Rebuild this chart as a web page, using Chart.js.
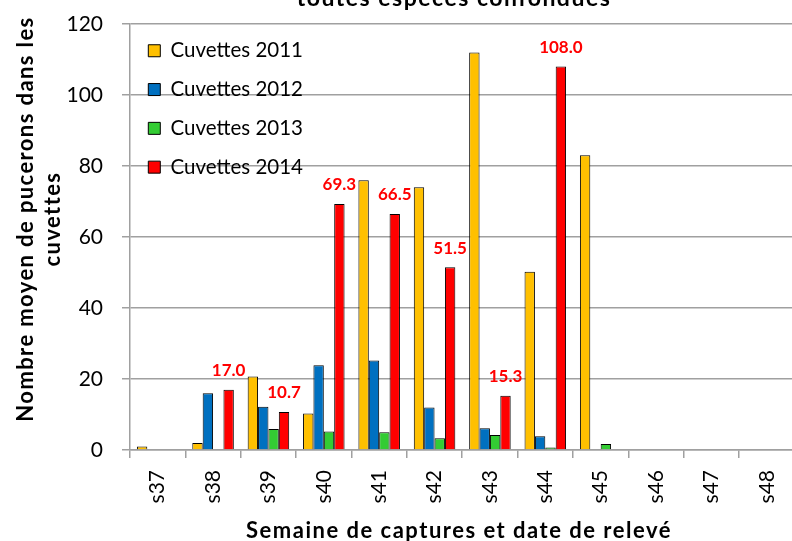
<!DOCTYPE html>
<html><head><meta charset="utf-8">
<script src="https://cdn.jsdelivr.net/npm/chart.js@4"></script>
<style>html,body{margin:0;padding:0;overflow:hidden;background:#fff}
#wrap{width:804px;height:541px;position:relative}</style></head>
<body><div id="wrap"><canvas id="c"></canvas></div>
<script>
const categories = ['s37','s38','s39','s40','s41','s42','s43','s44','s45','s46','s47','s48'];
const cuvettes2011 = [1, 2, 20.7, 10.3, 76, 74, 112, 50.2, 83, 0, 0, 0];
const cuvettes2012 = [0, 16, 12.2, 23.9, 25.2, 12, 6.1, 3.9, 0, 0, 0, 0];
const cuvettes2013 = [0, 0, 5.9, 5.2, 5, 3.3, 4.2, 0.7, 1.7, 0, 0, 0];
const cuvettes2014 = [0, 17.0, 10.7, 69.3, 66.5, 51.5, 15.3, 108.0, 0, 0, 0, 0];
const seriesNames = ['Cuvettes 2011','Cuvettes 2012','Cuvettes 2013','Cuvettes 2014'];
const yTickValues = [0, 20, 40, 60, 80, 100, 120];
const chartTitle = 'toutes espèces confondues';
const xTitle = 'Semaine de captures et date de relevé';
const yTitle = ['Nombre moyen de pucerons dans les', 'cuvettes'];

const FONT = 'Lato';

const labelPlugin = {
  id: 'labels2014',
  afterDatasetsDraw(chart) {
    const ctx = chart.ctx;
    const meta = chart.getDatasetMeta(3);
    ctx.save();
    ctx.font = 'bold 17px ' + FONT;
    ctx.fillStyle = '#FF0000';
    ctx.textAlign = 'center';
    ctx.textBaseline = 'middle';
    meta.data.forEach((el, i) => {
      const v = cuvettes2014[i];
      if (v > 0) ctx.fillText(v.toFixed(1), el.x, el.y - 19);
    });
    ctx.restore();
  }
};

const titlesPlugin = {
  id: 'titles',
  afterDraw(chart) {
    const ctx = chart.ctx;
    ctx.save();
    ctx.fillStyle = '#000';
    ctx.textAlign = 'center';
    ctx.textBaseline = 'alphabetic';
    ctx.font = 'bold 23px ' + FONT;
    ctx.letterSpacing = '1.5px';
    ctx.fillText(chartTitle, 454, 6);
    ctx.font = 'bold 22px ' + FONT;
    ctx.letterSpacing = '1.5px';
    ctx.fillText(xTitle, 459, 538);
    ctx.letterSpacing = '1.4px';
    const xs = [33, 60];
    yTitle.forEach((line, i) => {
      ctx.save();
      ctx.translate(xs[i], 219);
      ctx.rotate(-Math.PI / 2);
      ctx.fillText(line, 0, 0);
      ctx.restore();
    });
    ctx.restore();
  }
};

const colors = ['#FFC000', '#0070C0', '#33CC33', '#FF0000'];
const allData = [cuvettes2011, cuvettes2012, cuvettes2013, cuvettes2014];

new Chart(document.getElementById('c'), {
  type: 'bar',
  data: {
    labels: categories,
    datasets: allData.map((d, i) => ({
      label: seriesNames[i],
      data: d,
      backgroundColor: colors[i],
      borderColor: '#000',
      borderWidth: 1,
      categoryPercentage: 0.75,
      barPercentage: 1.0
    }))
  },
  options: {
    responsive: true,
    maintainAspectRatio: false,
    animation: false,
    layout: { padding: { top: 24, left: 0, right: 0, bottom: 0 } },
    plugins: {
      legend: {
        position: 'chartArea',
        align: 'start',
        title: { display: true, text: ' ', font: { size: 10 }, padding: { top: 4, bottom: 6.2 } },
        labels: { boxWidth: 12, boxHeight: 12, padding: 18.3, color: '#000', font: { family: FONT, size: 20.5 } }
      },
      tooltip: { enabled: false },
      title: { display: false }
    },
    scales: {
      x: {
        grid: { display: true, drawOnChartArea: false, drawTicks: true, tickLength: 8, color: '#a0a0a0', lineWidth: 1.5, offset: true },
        border: { color: '#a0a0a0', width: 1.5 },
        ticks: { color: '#000', font: { family: FONT, size: 21 }, minRotation: 90, maxRotation: 90, padding: 12, autoSkip: false },
        afterFit(s) { s.height = 91; }
      },
      y: {
        min: 0, max: 120,
        afterBuildTicks(s) { s.ticks = yTickValues.map(v => ({ value: v })); },
        ticks: { color: '#000', font: { family: FONT, size: 21 }, padding: 19 },
        grid: { color: '#a0a0a0', lineWidth: 1.5, tickLength: 8 },
        border: { color: '#a0a0a0', width: 1.5 },
        afterFit(s) { s.width = 130; s.paddingTop = 0; s.paddingBottom = 0; }
      }
    }
  },
  plugins: [labelPlugin, titlesPlugin]
});
</script>
</body></html>
